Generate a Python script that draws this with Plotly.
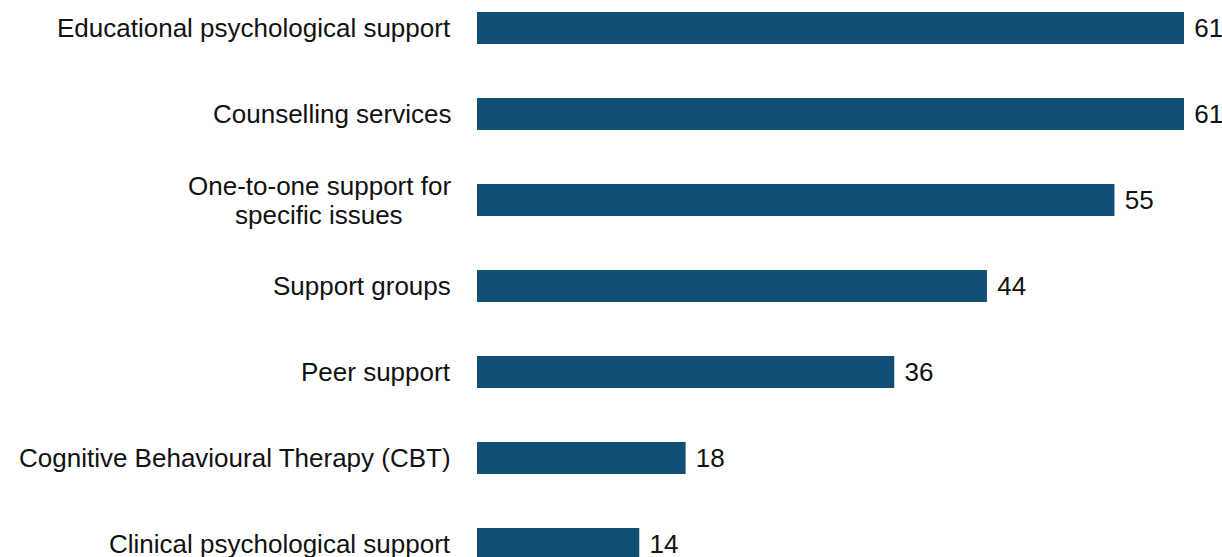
import plotly.graph_objects as go

categories = [
    "Educational psychological support",
    "Counselling services",
    "One-to-one support for<br>specific issues",
    "Support groups",
    "Peer support",
    "Cognitive Behavioural Therapy (CBT)",
    "Clinical psychological support",
]
values = [61, 61, 55, 44, 36, 18, 14]

BAR_COLOR = "#124f74"
FONT = "Liberation Sans, Arial, sans-serif"
FS = 26
LINE_GAP = 29

fig = go.Figure()
fig.add_trace(go.Bar(
    x=values,
    y=list(range(len(categories))),
    orientation="h",
    marker=dict(color=BAR_COLOR, line=dict(width=0)),
    width=0.372,
    text=[str(v) for v in values],
    textposition="outside",
    texttemplate=" %{text}",
    textfont=dict(family=FONT, size=FS, color="#111111"),
    cliponaxis=False,
    hoverinfo="skip",
))

for i, c in enumerate(categories):
    lines = c.split("<br>")
    n = len(lines)
    for j, ln in enumerate(lines):
        fig.add_annotation(
            x=0, xref="paper",
            xanchor="right" if n == 1 else "center",
            xshift=-24 if n == 1 else -158,
            y=i, yref="y", yanchor="middle",
            yshift=((n - 1) / 2 - j) * LINE_GAP,
            text=ln, showarrow=False,
            font=dict(family=FONT, size=FS, color="#111111"),
        )

fig.update_layout(
    width=1222, height=557,
    margin=dict(l=477, r=38, t=0, b=0),
    plot_bgcolor="white", paper_bgcolor="white",
    showlegend=False,
    xaxis=dict(range=[0, 61], visible=False),
    yaxis=dict(range=[6.151, -0.3256], showticklabels=False, showgrid=False,
               zeroline=False, showline=False, ticks=""),
)

fig.write_html(
    "out.html",
    config={"displayModeBar": False},
    post_script="document.body.style.margin='0';document.body.style.overflow='hidden';",
)
